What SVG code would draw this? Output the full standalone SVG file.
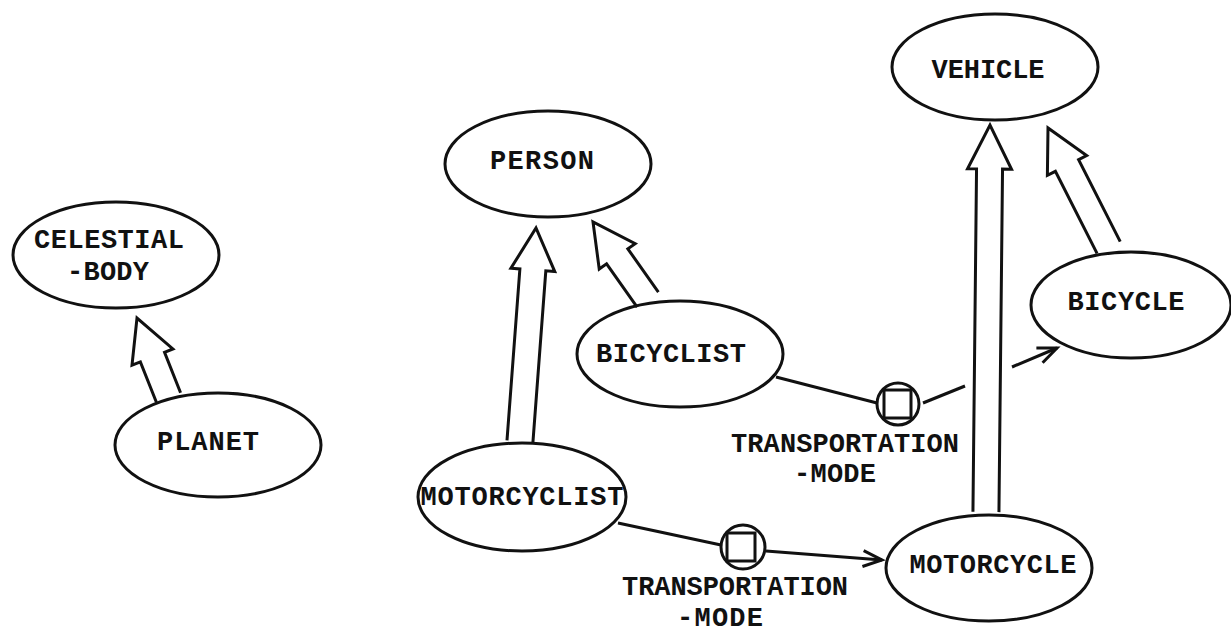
<svg xmlns="http://www.w3.org/2000/svg" width="1231" height="633" viewBox="0 0 1231 633">
  <style>
    .node ellipse { fill: none; stroke: #111; stroke-width: 3; }
    .label { font-family: "Liberation Mono", "Courier New", monospace; font-weight: bold; font-size: 27px; fill: #111; text-anchor: middle; }
    .isa { fill: none; stroke: #111; stroke-width: 3; stroke-linejoin: miter; }
    .link { fill: none; stroke: #111; stroke-width: 3; }
    .role circle, .role rect { fill: none; stroke: #111; stroke-width: 3; }
  </style>
  <defs>
    <!-- open chevron head for role links, drawn in user units -->
    <marker id="open-arrow" markerUnits="userSpaceOnUse" markerWidth="40" markerHeight="40" refX="0" refY="0" orient="auto" overflow="visible">
      <path d="M -19,-8 L 0,0 L -19,8" fill="none" stroke="#111" stroke-width="3"/>
    </marker>
  </defs>
  <rect width="1231" height="633" fill="#fff"/>

  <!-- connectors: hollow "is-a" arrows and role links -->
  <g id="connectors">
    <!-- PLANET -> CELESTIAL-BODY -->
    <polyline class="isa" transform="translate(137,318) rotate(-21.6)" points="-13,85.5 -13,42 -22,42 0,0 22,42 13,42 13,85.5"/>
    <!-- MOTORCYCLIST -> PERSON -->
    <polyline class="isa" transform="translate(536,228) rotate(4.3)" points="-13,214 -13,42 -22,42 0,0 22,42 13,42 13,214"/>
    <!-- BICYCLIST -> PERSON -->
    <polyline class="isa" transform="translate(593,222) rotate(-35.2)" points="-13,95 -13,42 -22,42 0,0 22,42 13,42 13,95"/>
    <!-- MOTORCYCLE -> VEHICLE -->
    <polyline class="isa" transform="translate(990,125) rotate(0.6)" points="-13,387 -13,44 -22,44 0,0 22,44 13,44 13,387"/>
    <!-- BICYCLE -> VEHICLE -->
    <polyline class="isa" transform="translate(1048,128) rotate(-26.9)" points="-13,134 -13,42 -22,42 0,0 22,42 13,42 13,134"/>

    <!-- BICYCLIST -transportation-mode-> BICYCLE -->
    <line class="link" x1="776" y1="377" x2="877" y2="403"/>
    <line class="link" x1="923" y1="403" x2="965" y2="386"/>
    <line class="link" x1="1012" y1="367" x2="1057" y2="348" marker-end="url(#open-arrow)"/>
    <g class="role" id="role-bicyclist">
      <circle cx="898" cy="404" r="21"/>
      <rect x="884" y="390" width="27" height="28"/>
    </g>

    <!-- MOTORCYCLIST -transportation-mode-> MOTORCYCLE -->
    <line class="link" x1="618" y1="523" x2="721" y2="545"/>
    <line class="link" x1="766" y1="551" x2="882" y2="560" marker-end="url(#open-arrow)"/>
    <g class="role" id="role-motorcyclist">
      <circle cx="743" cy="547" r="22"/>
      <rect x="727" y="533" width="28" height="28"/>
    </g>
  </g>

  <g id="celestial-body" class="node">
    <ellipse cx="116" cy="255" rx="103" ry="53"/>
    <text class="label" x="109" y="248" textLength="150" lengthAdjust="spacing">CELESTIAL</text>
    <text class="label" x="108" y="280" textLength="82" lengthAdjust="spacing">-BODY</text>
  </g>

  <g id="planet" class="node">
    <ellipse cx="218" cy="445" rx="103" ry="52"/>
    <text class="label" x="208" y="450" textLength="102" lengthAdjust="spacing">PLANET</text>
  </g>

  <g id="person" class="node">
    <ellipse cx="548" cy="164" rx="103" ry="53"/>
    <text class="label" x="542" y="169" textLength="104" lengthAdjust="spacing">PERSON</text>
  </g>

  <g id="bicyclist" class="node">
    <ellipse cx="680" cy="354" rx="103" ry="53"/>
    <text class="label" x="671" y="362" textLength="150" lengthAdjust="spacing">BICYCLIST</text>
  </g>

  <g id="motorcyclist" class="node">
    <ellipse cx="522" cy="497" rx="104" ry="54"/>
    <text class="label" x="522" y="505" textLength="203" lengthAdjust="spacing">MOTORCYCLIST</text>
  </g>

  <g id="vehicle" class="node">
    <ellipse cx="995" cy="67" rx="103" ry="53"/>
    <text class="label" x="988" y="78" textLength="113" lengthAdjust="spacing">VEHICLE</text>
  </g>

  <g id="bicycle" class="node">
    <ellipse cx="1131" cy="305" rx="100" ry="53"/>
    <text class="label" x="1126" y="310" textLength="117" lengthAdjust="spacing">BICYCLE</text>
  </g>

  <g id="motorcycle" class="node">
    <ellipse cx="989" cy="568" rx="103" ry="53"/>
    <text class="label" x="993" y="573" textLength="167" lengthAdjust="spacing">MOTORCYCLE</text>
  </g>

  <!-- role labels -->
  <g id="role-labels">
    <text class="label" x="845" y="452" textLength="228" lengthAdjust="spacing">TRANSPORTATION</text>
    <text class="label" x="835" y="482" textLength="82" lengthAdjust="spacing">-MODE</text>
    <text class="label" x="735" y="595" textLength="226" lengthAdjust="spacing">TRANSPORTATION</text>
    <text class="label" x="720" y="626" textLength="86" lengthAdjust="spacing">-MODE</text>
  </g>
</svg>
